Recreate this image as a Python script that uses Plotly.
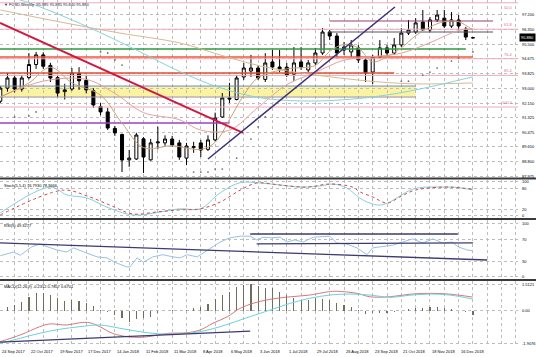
import plotly.graph_objects as go
from plotly.subplots import make_subplots

# ---------------- data ----------------
bar_index = list(range(67))  # weekly bars, 24 Sep 2017 .. 30 Dec 2018
date_tick_idx = list(range(0, 65, 4))
date_labels = ["24 Sep 2017", "22 Oct 2017", "19 Nov 2017", "17 Dec 2017", "14 Jan 2018",
               "11 Feb 2018", "11 Mar 2018", "8 Apr 2018", "6 May 2018", "3 Jun 2018",
               "1 Jul 2018", "29 Jul 2018", "26 Aug 2018", "23 Sep 2018", "21 Oct 2018",
               "18 Nov 2018", "16 Dec 2018"]

opens = [92.25, 93.00, 93.58, 92.95, 93.60, 94.35, 94.90, 94.30, 93.60, 92.80,
         92.95, 93.85, 93.45, 92.85, 91.95, 91.64, 90.70, 90.35, 88.90, 88.95,
         90.10, 88.90, 89.87, 89.87, 90.09, 89.87, 89.00, 89.60, 89.87, 89.50,
         90.04, 91.35, 92.44, 92.35, 93.64, 93.98, 94.15, 93.50, 94.50, 94.21,
         94.20, 93.80, 94.50, 94.04, 94.44, 95.01, 96.21, 95.98, 95.18, 95.07,
         95.30, 94.61, 93.92, 94.78, 95.30, 95.01, 95.47, 96.15, 96.21, 96.78,
         96.33, 96.90, 97.00, 96.55, 96.90, 96.38, 95.885]
highs = [93.12, 93.87, 93.70, 93.75, 95.00, 95.07, 95.05, 94.45, 93.70, 93.25,
         94.15, 94.20, 93.70, 93.00, 92.15, 91.87, 90.84, 90.40, 89.47, 90.45,
         90.20, 90.10, 90.80, 90.30, 90.27, 90.04, 89.87, 89.93, 90.04, 90.30,
         91.60, 92.72, 93.30, 93.75, 94.44, 94.90, 94.30, 95.00, 95.18, 95.18,
         94.44, 95.35, 95.35, 94.61, 95.30, 96.44, 96.33, 96.15, 95.64, 95.75,
         95.47, 94.72, 94.90, 95.75, 95.47, 95.87, 96.44, 96.90, 97.00, 97.47,
         97.07, 97.47, 97.47, 97.35, 97.18, 96.50, 95.885]
lows = [92.15, 92.80, 92.75, 92.80, 93.50, 94.10, 94.10, 93.35, 92.50, 92.35,
        92.85, 92.90, 92.70, 91.87, 91.45, 90.61, 90.27, 88.20, 88.50, 88.90,
        88.15, 88.85, 89.50, 89.70, 89.64, 88.90, 88.60, 89.30, 89.06, 89.40,
        89.95, 91.30, 92.15, 92.30, 93.47, 93.64, 93.47, 93.35, 94.04, 93.90,
        93.64, 93.40, 94.04, 93.92, 94.33, 94.90, 95.75, 94.78, 94.90, 94.78,
        94.44, 93.35, 93.24, 94.72, 94.84, 94.90, 95.35, 96.04, 96.10, 96.27,
        96.20, 96.78, 96.44, 96.44, 96.33, 95.75, 95.840]
closes = [93.00, 93.58, 92.95, 93.58, 94.35, 94.90, 94.25, 93.58, 92.72, 92.90,
          93.87, 93.42, 92.90, 92.04, 91.64, 90.72, 90.44, 88.89, 89.00, 90.32,
          89.06, 89.87, 89.92, 90.09, 89.75, 89.06, 89.69, 89.66, 89.46, 90.04,
          91.29, 92.44, 92.38, 93.58, 94.15, 94.15, 93.58, 94.44, 94.21, 94.10,
          93.75, 94.44, 94.21, 94.44, 95.01, 96.21, 95.98, 95.01, 95.35, 95.47,
          94.61, 93.87, 94.78, 95.30, 95.01, 95.47, 96.15, 96.33, 96.73, 96.33,
          96.90, 97.18, 96.55, 96.90, 96.55, 95.92, 95.880]

# parabolic SAR dots (read where visible)
sar_x = [2, 4, 5, 14, 15, 16, 17, 27, 28, 29, 30, 31, 33, 35, 36, 37, 56, 57, 59, 60, 61, 63, 64, 66]
sar_y = [91.35, 91.41, 91.64, 95.07, 95.01, 94.61, 94.32, 88.20, 88.20, 88.20, 88.37, 88.37, 89.00,
         90.09, 90.78, 91.35, 93.40, 93.40, 93.75, 93.92, 94.15, 94.55, 94.72, 95.07]

# moving averages (read at knots)
ma_long_x = [0, 8.4, 16.7, 25.1, 30.7, 36.3, 41.9, 47.4, 53, 58.6, 66]
ma_long_y = [97.47, 96.78, 96.15, 95.58, 94.90, 94.27, 93.87, 93.58, 93.35, 93.24, 93.30]
ma_mid_x = [0, 2.8, 8.4, 14, 19.5, 25.1, 30.7, 36.3, 41.9, 47.4, 53, 58.6, 66]
ma_mid_y = [98.30, 98.04, 97.18, 96.17, 95.08, 93.94, 93.02, 92.45, 92.27, 92.32, 92.55, 92.95, 93.65]
ma_med_x = [0, 6, 12, 16, 20, 25, 28, 32, 36, 40, 44, 48, 52, 56, 60, 64, 66]
ma_med_y = [92.5, 93.4, 93.5, 92.7, 91.6, 91.2, 90.6, 90.6, 91.9, 93.2, 93.9, 94.6, 94.8, 95.0, 95.6, 96.3, 96.4]
ma_fast_x = [0, 4, 7, 10, 14, 17, 20, 24, 28, 30, 32, 34, 36, 40, 44, 46, 48, 50, 52, 54, 56, 58, 60, 62, 64, 66]
ma_fast_y = [92.5, 93.3, 94.2, 93.3, 92.6, 91.0, 89.6, 89.7, 89.5, 89.9, 91.2, 92.6, 93.6, 94.1, 94.3, 95.1,
             95.5, 95.3, 94.5, 94.8, 95.3, 96.0, 96.5, 96.8, 96.8, 96.3]

# horizontal levels: price, start bar, end bar
hline_price = [95.24, 94.78, 93.87, 96.21, 96.84, 91.01, 93.12, 92.49]
hline_start = [-1, -1, -1, 45.8, 46.0, -1, -1, -1]
hline_end = [65, 66, 55, 68.8, 68.8, 32, 58, 58]
band_low, band_high, band_end = 92.49, 93.10, 58

# trend lines: (bar, price) pairs
red_trend_x = [-0.04, 33.9]
red_trend_y = [96.73, 90.44]
blue_trend_x = [29.0, 55.1]
blue_trend_y = [88.95, 97.64]

fib_labels = ["50.0", "61.8", "76.4", "85.4", "100.0"]
fib_prices = [97.88, 96.37, 94.68, 93.73, 91.92]

price_ticks = [97.200, 96.350, 95.500, 94.675, 93.825, 93.000, 92.150, 91.325, 90.475, 89.650, 88.800, 87.975]
price_tick_text = ["97.200", "96.350", "95.500", "94.675", "93.825", "93.000", "92.150", "91.325",
                   "90.475", "89.650", "88.800", "87.975"]
last_price = 95.880

# Stochastic
stoch_main_x = [0, 7, 9.3, 12.1, 14.9, 17.7, 19.5, 25.1, 27.9, 30.7, 33.5, 36.3, 39.1, 41.9, 44.6, 46.5,
                48.4, 50.2, 51.6, 53, 54.4, 55.8, 57.6, 59.6, 61.4, 63.2, 66]
stoch_main_y = [9, 85, 62, 53, 26, 6, 3, 21, 21, 68, 98, 97, 91, 85, 88, 94, 82, 53, 38, 32, 41, 59, 79,
                85, 85, 85, 76.8]
stoch_sig_x = [0, 8.8, 12.1, 15.3, 18.5, 21.9, 25.1, 27.9, 30.7, 33.5, 35.8, 39.1, 42.8, 46, 49.2, 50.2,
               52, 54, 55.8, 57.6, 59.6, 62.8, 66]
stoch_sig_y = [3, 76, 59, 32, 6, 12, 18, 21, 41, 76, 97, 91, 85, 94, 85, 71, 56, 38, 56, 74, 82, 85, 78.4]
stoch_ticks = [100, 80, 20, 0]

# RSI
rsi_x = [0, 1.8, 2.8, 4.4, 5.5, 6.7, 7.9, 9.3, 10.2, 12.1, 13.5, 14.9, 16.3, 17.7, 18.1, 19.1, 20.0,
         21.3, 22.7, 24.1, 25.1, 26.1, 27.5, 28.3, 29.7, 30.7, 32.1, 33.5, 34.9, 35.8, 36.7, 37.7,
         39.1, 40.0, 41.1, 42.3, 43.7, 45.1, 46.0, 47.0, 48.4, 49.8, 51.2, 52.0, 53.4, 54.8, 56.2,
         57.6, 59.0, 60.4, 61.8, 63.1, 63.9, 65.2, 66.0]
rsi_y = [40, 47, 41, 57, 62, 57, 51, 47, 55, 45, 38, 36, 26, 19, 19, 36, 28, 38, 42, 38, 36, 42, 38,
         45, 57, 66, 74, 77, 77, 70, 75, 74, 75, 66, 70, 66, 75, 77, 77, 64, 62, 55, 42, 55, 57, 60,
         66, 72, 64, 72, 64, 66, 57, 51, 49.3]
rsi_trend_x = [-0.04, 68.0]
rsi_trend_y = [64.2, 32.1]
rsi_top_x = [34.9, 63.9]
rsi_top_y = [81.1, 81.1]
rsi_mid_x = [35.8, 66.0]
rsi_mid_y = [62.3, 64.2]
rsi_ticks = [100, 70, 30, 0]

# MACD
macd_hist = [0.0, 0.23, 0.33, 0.52, 0.82, 1.01, 1.01, 0.91, 0.72, 0.58, 0.62, 0.58, 0.43, 0.27, 0.02,
             -0.06, -0.25, -0.44, -0.64, -0.50, -0.44, -0.35, -0.15, 0.0, 0.02, 0.0, 0.03, 0.14, 0.23,
             0.39, 0.66, 0.91, 1.11, 1.36, 1.49, 1.55, 1.44, 1.30, 1.30, 1.11, 0.91, 0.72, 0.62, 0.62,
             0.72, 0.66, 0.62, 0.47, 0.33, 0.23, 0.02, -0.19, -0.15, -0.15, -0.15, -0.10, 0.0, 0.08,
             0.14, 0.14, 0.23, 0.23, 0.14, 0.08, 0.0, -0.09, -0.23]
macd_red_x = [0, 2.8, 5.5, 6.9, 9.3, 11.1, 12.5, 13.9, 15.7, 17.7, 19.5, 21.3, 23.3, 26.1, 27.9, 29.7,
              31.7, 33.5, 35.3, 37.5, 40.5, 43.2, 45.8, 47, 49.8, 51.6, 54.4, 57.2, 60, 62.8, 66]
macd_red_y = [-1.8, -1.41, -0.93, -0.77, -0.83, -0.70, -0.70, -0.93, -1.32, -1.51, -1.55, -1.47, -1.32,
              -1.28, -1.12, -0.73, -0.35, 0.14, 0.43, 0.65, 0.81, 0.91, 1.10, 1.13, 1.01, 0.81, 0.81,
              0.96, 1.01, 0.96, 0.79]
macd_cyan_x = [0, 2.8, 5.5, 8.3, 11.1, 13.9, 16.7, 19.5, 22.3, 25.1, 27.9, 30.7, 33.5, 36.3, 37.7,
               40.5, 43.2, 46, 48.8, 51.6, 54.4, 57.2, 60, 62.8, 66]
macd_cyan_y = [-1.9, -1.6, -1.31, -1.08, -0.93, -0.83, -1.02, -1.22, -1.35, -1.35, -1.22, -0.93, -0.54,
               -0.15, 0.04, 0.43, 0.72, 0.91, 0.97, 0.91, 0.78, 0.90, 0.97, 0.91, 0.67]
macd_trend_x = [-0.04, 34.9]
macd_trend_y = [-1.83, -1.19]
macd_ticks = [1.5121, 0, -1.9076]
macd_tick_text = ["1.5121", "0.00", "-1.9076"]

# ---------------- figure ----------------
FONT = "Liberation Sans"
PRICE_TOP = 98.040
fig = make_subplots(rows=4, cols=1, shared_xaxes=True, vertical_spacing=0.0)

fig.add_shape(type="rect", x0=-1, x1=band_end, y0=band_low, y1=band_high, xref="x", yref="y",
              fillcolor="#fbf3a0", line_width=0, layer="below")

for p in fib_prices:
    fig.add_trace(go.Scatter(x=[-1, 73], y=[p, p], mode="lines",
                             line=dict(color="#eeaabb", width=1), hoverinfo="skip"), row=1, col=1)

hl_colors = ["#2e9a3c", "#ee5a36", "#e0502e", "#555566", "#9a3f70", "#9b40c8", "#6a86c0", "#9a90b0"]
hl_widths = [1.5, 1.5, 1.5, 1, 1, 1.5, 1, 1]
for p, s, e, c, w in zip(hline_price, hline_start, hline_end, hl_colors, hl_widths):
    fig.add_trace(go.Scatter(x=[s, e], y=[p, p], mode="lines", line=dict(color=c, width=w),
                             hoverinfo="skip"), row=1, col=1)

for xs, ys, c in [(ma_long_x, ma_long_y, "#d8b894"), (ma_mid_x, ma_mid_y, "#86d4dc"),
                  (ma_med_x, ma_med_y, "#e8a0a0"), (ma_fast_x, ma_fast_y, "#c9a27a")]:
    fig.add_trace(go.Scatter(x=xs, y=ys, mode="lines", line=dict(color=c, width=1, shape="spline"),
                             hoverinfo="skip"), row=1, col=1)

fig.add_trace(go.Scatter(x=red_trend_x, y=red_trend_y, mode="lines",
                         line=dict(color="#d01840", width=2), hoverinfo="skip"), row=1, col=1)
fig.add_trace(go.Scatter(x=blue_trend_x, y=blue_trend_y, mode="lines",
                         line=dict(color="#40307a", width=1.5), hoverinfo="skip"), row=1, col=1)

fig.add_trace(go.Scatter(x=sar_x, y=sar_y, mode="markers",
                         marker=dict(color="#707070", size=1.8), hoverinfo="skip"), row=1, col=1)

fig.add_trace(go.Candlestick(
    x=bar_index, open=opens, high=highs, low=lows, close=closes,
    increasing=dict(line=dict(color="black", width=1), fillcolor="white"),
    decreasing=dict(line=dict(color="black", width=1), fillcolor="black"),
    whiskerwidth=0, hoverinfo="skip"), row=1, col=1)

fig.add_trace(go.Scatter(x=stoch_main_x, y=stoch_main_y, mode="lines",
                         line=dict(color="#86cfe0", width=1, shape="spline"), hoverinfo="skip"), row=2, col=1)
fig.add_trace(go.Scatter(x=stoch_sig_x, y=stoch_sig_y, mode="lines",
                         line=dict(color="#d04848", width=1, dash="dot", shape="spline"),
                         hoverinfo="skip"), row=2, col=1)

fig.add_trace(go.Scatter(x=rsi_x, y=rsi_y, mode="lines", line=dict(color="#96c2e4", width=1),
                         hoverinfo="skip"), row=3, col=1)
for xs, ys in [(rsi_trend_x, rsi_trend_y), (rsi_top_x, rsi_top_y), (rsi_mid_x, rsi_mid_y)]:
    fig.add_trace(go.Scatter(x=xs, y=ys, mode="lines", line=dict(color="#3c3a6e", width=1.3),
                             hoverinfo="skip"), row=3, col=1)

fig.add_trace(go.Bar(x=bar_index, y=macd_hist, width=0.16, marker=dict(color="#6e6e5a", line_width=0),
                     hoverinfo="skip"), row=4, col=1)
fig.add_trace(go.Scatter(x=macd_red_x, y=macd_red_y, mode="lines",
                         line=dict(color="#d87878", width=1, shape="spline"), hoverinfo="skip"), row=4, col=1)
fig.add_trace(go.Scatter(x=macd_cyan_x, y=macd_cyan_y, mode="lines",
                         line=dict(color="#6ad2dc", width=1, shape="spline"), hoverinfo="skip"), row=4, col=1)
fig.add_trace(go.Scatter(x=macd_trend_x, y=macd_trend_y, mode="lines",
                         line=dict(color="#3c3a6e", width=1.3), hoverinfo="skip"), row=4, col=1)

# ---------------- axes ----------------
grid_vals = list(range(0, 73, 2))
xcommon = dict(range=[-0.04, 72.29], tickmode="array", tickvals=grid_vals, showgrid=True,
               gridcolor="#bdbdbd", griddash="dot", gridwidth=1, showline=False, zeroline=False,
               ticks="", showticklabels=False, automargin=False, rangeslider_visible=False)
fig.update_xaxes(**xcommon)

ycommon = dict(side="right", tickmode="array", showgrid=True, gridcolor="#bdbdbd", griddash="dot",
               gridwidth=1, zeroline=False, showline=False, ticks="", showticklabels=False,
               automargin=False)
fig.update_yaxes(**ycommon)
fig.update_yaxes(domain=[0.4841, 1.0], range=[87.863, PRICE_TOP], tickvals=price_ticks, row=1, col=1)
fig.update_yaxes(domain=[0.3681, 0.4783], range=[-5.9, 105.9], tickvals=stoch_ticks, row=2, col=1)
fig.update_yaxes(domain=[0.1913, 0.3623], range=[-3.8, 107.5], tickvals=rsi_ticks, row=3, col=1)
fig.update_yaxes(domain=[0.0, 0.1855], range=[-1.994, 1.727], tickvals=macd_ticks, row=4, col=1)

for yp in [0.4826, 0.3652, 0.1884]:
    fig.add_shape(type="line", xref="paper", yref="paper", x0=0, x1=1.04, y0=yp, y1=yp,
                  line=dict(color="#3a3a3a", width=2))

small = dict(size=4, family=FONT, color="black")
ann = []
for v, t in zip(price_ticks, price_tick_text):
    ann.append(dict(xref="paper", yref="y", x=1.0, y=v, xanchor="left", yanchor="middle", xshift=2,
                    text=t, showarrow=False, font=small))
for v in stoch_ticks:
    ann.append(dict(xref="paper", yref="y2", x=1.0, y=v, xanchor="left", yanchor="middle", xshift=2,
                    text=str(v), showarrow=False, font=small))
for v in rsi_ticks:
    ann.append(dict(xref="paper", yref="y3", x=1.0, y=v, xanchor="left", yanchor="middle", xshift=2,
                    text=str(v), showarrow=False, font=small))
for v, t in zip(macd_ticks, macd_tick_text):
    ann.append(dict(xref="paper", yref="y4", x=1.0, y=v, xanchor="left", yanchor="middle", xshift=2,
                    text=t, showarrow=False, font=small))
for v, t in zip(date_tick_idx, date_labels):
    ann.append(dict(xref="x4", yref="paper", x=v, y=0, xanchor="left", yanchor="top", yshift=-2,
                    text=t, showarrow=False, font=small))

ann.append(dict(xref="paper", yref="paper", x=0.004, y=0.999, xanchor="left", yanchor="top",
                text="▼ FUSD,Weekly  95.885 95.885 95.840 95.880", showarrow=False,
                font=dict(size=4, family=FONT, color="#202040")))
ann.append(dict(xref="paper", yref="paper", x=0.004, y=0.475, xanchor="left", yanchor="top",
                text="Stoch(5,5,4) 76.7930 78.3666", showarrow=False, font=small))
ann.append(dict(xref="paper", yref="paper", x=0.004, y=0.360, xanchor="left", yanchor="top",
                text="RSI(9) 49.3277", showarrow=False, font=small))
ann.append(dict(xref="paper", yref="paper", x=0.004, y=0.183, xanchor="left", yanchor="top",
                text="MACD(12,26,9) -0.2312 0.7857 0.6701", showarrow=False, font=small))
for t, p in zip(fib_labels, fib_prices):
    near_top = (PRICE_TOP - p) < 0.3
    ann.append(dict(xref="paper", yref="y", x=0.995, y=p, xanchor="right",
                    yanchor="top" if near_top else "bottom", text=t,
                    showarrow=False, font=dict(size=4, family=FONT, color="#e07090")))
ann.append(dict(xref="paper", yref="y", x=1.0, y=last_price, xanchor="left", yanchor="middle", xshift=1,
                text=f"{last_price:.3f}", showarrow=False, bgcolor="black", borderpad=1,
                font=dict(size=4, family=FONT, color="white")))

fig.update_layout(width=536, height=357, margin=dict(l=0, r=18, t=0, b=12, autoexpand=False),
                  plot_bgcolor="white", paper_bgcolor="white", showlegend=False,
                  boxgap=0.4, bargap=0, annotations=ann, hovermode=False,
                  font=dict(family=FONT, size=4, color="black"))

fig.write_html("out.html", config={"displayModeBar": False, "staticPlot": True},
               post_script="document.body.style.margin='0';document.body.style.overflow='hidden';")
